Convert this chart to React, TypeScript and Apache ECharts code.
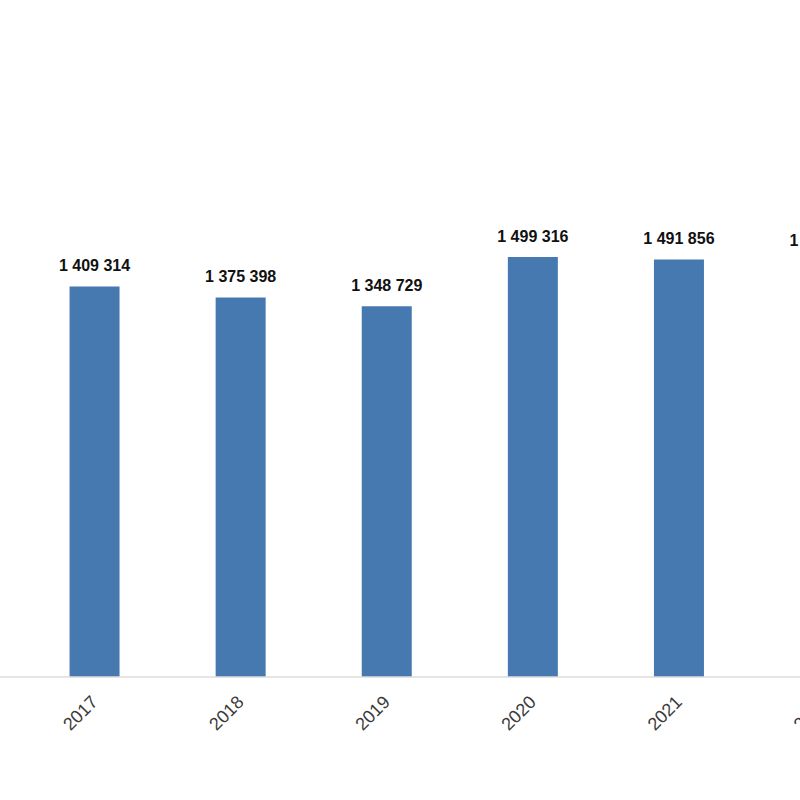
import React, { useEffect, useRef } from "react";
import * as echarts from "echarts";

const years = ["2017", "2018", "2019", "2020", "2021", "2022"];
const values = [1409314, 1375398, 1348729, 1499316, 1491856, 1485000];

const fmt = (v: number) => String(v).replace(/\B(?=(\d{3})+(?!\d))/g, " ");

export default function App() {
  const ref = useRef<HTMLDivElement>(null);
  useEffect(() => {
    if (!ref.current) return;
    const chart = echarts.init(ref.current, null, { renderer: "svg" });
    chart.setOption({
      animation: false,
      backgroundColor: "#ffffff",
      grid: {
        left: 21.5,
        right: -98.1,
        top: 155,
        bottom: 123,
        containLabel: false,
        outerBoundsMode: "none",
      },
      xAxis: {
        type: "category",
        data: years,
        axisLine: { show: false },
        axisTick: { show: false },
        axisLabel: {
          rotate: 45,
          fontSize: 18,
          color: "#3a3a3a",
          fontFamily: "Liberation Sans, Arial, sans-serif",
          margin: 22,
        },
      },
      yAxis: {
        type: "value",
        min: 212000,
        max: 1812000,
        show: false,
        splitLine: { show: false },
      },
      graphic: [
        {
          type: "line",
          shape: { x1: 0, y1: 677, x2: 800, y2: 677 },
          style: { stroke: "#dddddd", lineWidth: 1.5 },
          z: 10,
        },
      ],
      series: [
        {
          type: "bar",
          data: values,
          barWidth: 50,
          itemStyle: { color: "#4679B0" },
          label: {
            show: true,
            position: "top",
            distance: 13,
            fontSize: 16,
            fontWeight: "bold",
            color: "#111111",
            fontFamily: "Liberation Sans, Arial, sans-serif",
            formatter: (p: any) => fmt(p.value),
          },
        },
      ],
    });
    return () => chart.dispose();
  }, []);
  return <div ref={ref} style={{ width: 800, height: 800, position: "absolute", left: 0, top: 0 }} />;
}
